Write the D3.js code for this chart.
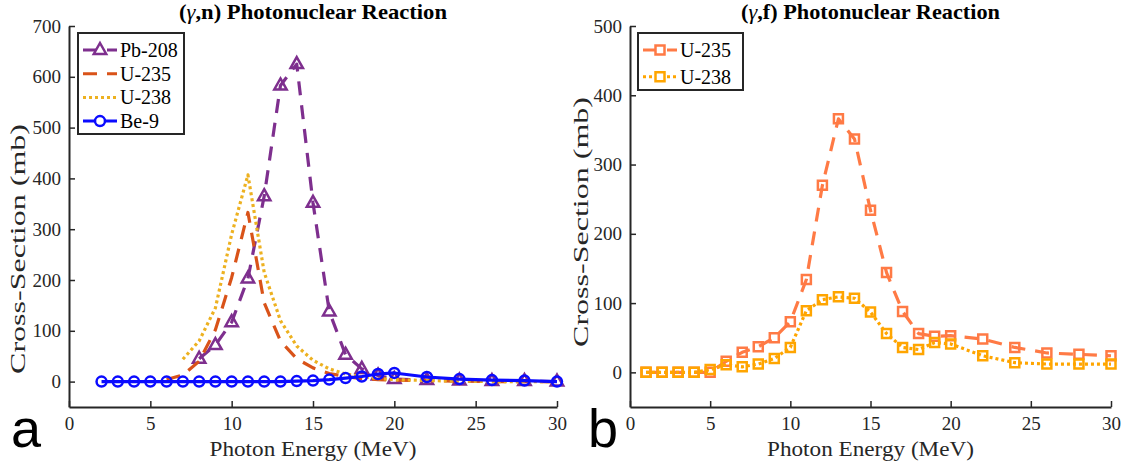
<!DOCTYPE html>
<html>
<head>
<meta charset="utf-8">
<script src="https://cdn.jsdelivr.net/npm/d3@7"></script>
<style>
  html, body { margin: 0; padding: 0; background: #fff; }
  svg { display: block; }
  svg text { font-family: "Liberation Serif", "Times New Roman", serif; }
</style>
</head>
<body>
<svg id="fig" width="1134" height="470"></svg>
<script>
// ---- (γ,n) cross-sections ----
const pbEnergy = [8, 9, 10, 11, 12, 13, 14, 15, 16, 17, 18, 19, 20, 22, 24, 26, 28, 30];
const pbXs     = [45, 72, 117, 203, 365, 583, 625, 352, 138, 53, 25, 12, 5, 3, 2, 1, 1, 0];

const u235nEnergy = [6, 7, 8, 9, 10, 11, 12, 13, 14, 15, 16, 17, 18, 19, 20, 22, 24, 26, 28, 30];
const u235nXs     = [4, 13, 40, 102, 205, 333, 155, 80, 45, 27, 16, 10, 6, 4, 3, 2, 1, 0, 0, 0];

const u238nEnergy = [7, 8, 9, 10, 11, 12, 13, 14, 15, 16, 17, 18, 19, 20, 22, 24, 26, 28, 30];
const u238nXs     = [44, 80, 145, 290, 407, 215, 120, 70, 42, 25, 15, 10, 6, 4, 2, 1, 0, 0, 0];

const beEnergy = [2, 3, 4, 5, 6, 7, 8, 9, 10, 11, 12, 13, 14, 15, 16, 17, 18, 19, 20, 22, 24, 26, 28, 30];
const beXs     = [0, 0, 0, 0, 0, 0, 0, 0, 0, 0, 0, 0, 1, 2, 4, 7, 10, 15, 17, 9, 5, 3, 2, 0];

// ---- (γ,f) cross-sections ----
const fEnergy = [1, 2, 3, 4, 5, 6, 7, 8, 9, 10, 11, 12, 13, 14, 15, 16, 17, 18, 19, 20, 22, 24, 26, 28, 30];
const u235fXs = [0, 0, 0, 0, 0, 16, 29, 37, 50, 73, 134, 270, 366, 337, 234, 144, 88, 56, 52, 53, 48, 36, 28, 26, 24];
const u238fXs = [0, 0, 0, 0, 4, 11, 8, 12, 20, 36, 89, 105, 109, 107, 87, 56, 36, 33, 43, 41, 24, 14, 12, 12, 12];

// ---- axis ticks ----
const xTicks = [0, 5, 10, 15, 20, 25, 30];
const yTicksN = [0, 100, 200, 300, 400, 500, 600, 700];
const yTicksF = [0, 100, 200, 300, 400, 500];

const svg = d3.select("#fig");
const axisColor = "#262626";
const serif = '"Liberation Serif", "Times New Roman", serif';

// marker shapes (unfilled)
function markerPath(kind) {
  if (kind === "triangle") return "M0,-7L6.2,4L-6.2,4Z";
  if (kind === "circle") return d3.symbol(d3.symbolCircle, 78)();
  if (kind === "square") return "M-4.5,-4.5H4.5V4.5H-4.5Z";
  return null;
}

function drawPanel(cfg) {
  const g = svg.append("g");
  const x = d3.scaleLinear().domain([0, 30]).range([cfg.left, cfg.right]);
  const y = d3.scaleLinear().domain(cfg.yDomain).range([cfg.bottom, cfg.top]);

  // series
  cfg.series.forEach(s => {
    const pts = s.energy.map((e, i) => [e, s.values[i]]);
    const line = d3.line().x(d => x(d[0])).y(d => y(d[1]));
    g.append("path")
      .attr("d", line(pts))
      .attr("fill", "none")
      .attr("stroke", s.color)
      .attr("stroke-width", 3.2)
      .attr("stroke-dasharray", s.dash || null)
      .attr("stroke-linejoin", "round");
    if (s.marker) {
      g.selectAll(null).data(pts).enter().append("path")
        .attr("d", markerPath(s.marker))
        .attr("transform", d => `translate(${x(d[0])},${y(d[1])})`)
        .attr("fill", "none")
        .attr("stroke", s.color)
        .attr("stroke-width", 2.5);
    }
  });

  // axes (ticks point inward)
  const xAxis = d3.axisBottom(x).tickValues(xTicks).tickSizeInner(-6).tickSizeOuter(0).tickPadding(10);
  const yAxis = d3.axisLeft(y).tickValues(cfg.yTicks).tickSizeInner(-6).tickSizeOuter(0).tickPadding(8);
  const gx = g.append("g").attr("transform", `translate(0,${cfg.bottom})`).call(xAxis);
  const gy = g.append("g").attr("transform", `translate(${cfg.left},0)`).call(yAxis);
  [gx, gy].forEach(a => {
    a.attr("font-family", null).attr("font-size", null);
    a.select(".domain").attr("stroke", axisColor).attr("stroke-width", 2);
    a.selectAll(".tick line").attr("stroke", axisColor).attr("stroke-width", 1.5);
    a.selectAll(".tick text").attr("fill", axisColor)
      .style("font-family", serif).style("font-size", "19px");
  });

  // title
  const t = g.append("text")
    .attr("x", (cfg.left + cfg.right) / 2).attr("y", 19)
    .attr("text-anchor", "middle").attr("font-weight", "bold")
    .style("font-size", "22px")
    .attr("textLength", cfg.titleLen).attr("lengthAdjust", "spacingAndGlyphs")
    .attr("fill", "#000");
  t.append("tspan").text("(");
  t.append("tspan").attr("font-style", "italic").attr("font-weight", "normal").text("γ");
  t.append("tspan").text(cfg.titleTail);

  // axis labels
  g.append("text")
    .attr("x", (cfg.left + cfg.right) / 2).attr("y", 456)
    .attr("text-anchor", "middle").style("font-size", "22px").attr("fill", axisColor)
    .attr("textLength", 207).attr("lengthAdjust", "spacingAndGlyphs")
    .text("Photon Energy (MeV)");
  g.append("text")
    .attr("transform", `translate(${cfg.yLabelX},${cfg.yLabelY}) rotate(-90)`)
    .attr("text-anchor", "middle").style("font-size", "22px").attr("fill", axisColor)
    .attr("textLength", 250).attr("lengthAdjust", "spacingAndGlyphs")
    .text("Cross-Section (mb)");

  // panel letter
  g.append("text")
    .attr("x", cfg.letterX).attr("y", 447)
    .style("font-family", '"Liberation Sans", Arial, sans-serif').style("font-size", "54px")
    .attr("fill", "#000")
    .text(cfg.letter);

  // legend
  const L = cfg.legend;
  const lg = g.append("g");
  lg.append("rect")
    .attr("x", L.x).attr("y", L.y).attr("width", L.w).attr("height", L.h)
    .attr("fill", "#fff").attr("stroke", axisColor).attr("stroke-width", 2);
  cfg.series.forEach((s, i) => {
    const cy = L.y + 17 + i * L.step;
    lg.append("line")
      .attr("x1", L.x + 5).attr("x2", L.x + 39).attr("y1", cy).attr("y2", cy)
      .attr("stroke", s.color).attr("stroke-width", 3)
      .attr("stroke-dasharray", s.dash || null);
    if (s.marker) {
      lg.append("path").attr("d", markerPath(s.marker))
        .attr("transform", `translate(${L.x + 22},${cy})`)
        .attr("fill", "#fff").attr("stroke", s.color).attr("stroke-width", 2.5);
    }
    lg.append("text")
      .attr("x", L.x + 42).attr("y", cy + 7)
      .style("font-size", "20px").attr("fill", "#000")
      .text(s.name);
  });
}

drawPanel({
  left: 69, right: 557, top: 26, bottom: 407, yDomain: [-50, 700], yTicks: yTicksN,
  titleTail: ",n) Photonuclear Reaction", titleLen: 268,
  yLabelX: 25, yLabelY: 249, letter: "a", letterX: 11,
  legend: { x: 78, y: 33, w: 106, h: 101, step: 23.7 },
  series: [
    { name: "Pb-208", energy: pbEnergy, values: pbXs, color: "#7E2F8E", dash: "14,10", marker: "triangle" },
    { name: "U-235", energy: u235nEnergy, values: u235nXs, color: "#D95319", dash: "14,10" },
    { name: "U-238", energy: u238nEnergy, values: u238nXs, color: "#EDB120", dash: "3,3" },
    { name: "Be-9", energy: beEnergy, values: beXs, color: "#0B0BFF", marker: "circle" }
  ]
});

drawPanel({
  left: 630, right: 1111, top: 26, bottom: 407, yDomain: [-50, 500], yTicks: yTicksF,
  titleTail: ",f) Photonuclear Reaction", titleLen: 259,
  yLabelX: 588, yLabelY: 222, letter: "b", letterX: 588,
  legend: { x: 638, y: 33, w: 105, h: 57, step: 26.7 },
  series: [
    { name: "U-235", energy: fEnergy, values: u235fXs, color: "#FF7A45", dash: "14,10", marker: "square" },
    { name: "U-238", energy: fEnergy, values: u238fXs, color: "#FFA500", dash: "3,3", marker: "square" }
  ]
});
</script>
</body>
</html>
